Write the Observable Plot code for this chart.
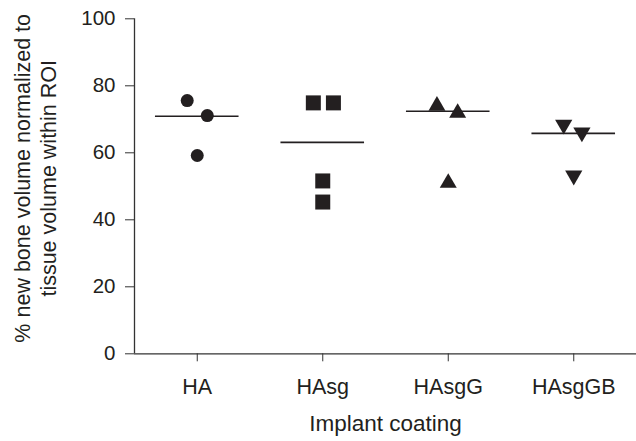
<!DOCTYPE html>
<html><head><meta charset="utf-8">
<script src="https://cdn.jsdelivr.net/npm/d3@7"></script>
<script src="https://cdn.jsdelivr.net/npm/@observablehq/plot@0.6"></script>
<style>
html,body{margin:0;padding:0;background:#fff;}
</style>
</head><body><div id="chart"></div>
<script>
const categories = ["HA", "HAsg", "HAsgG", "HAsgGB"];
const symbols = ["circle", "square", "triangle", "triangle"];
const rotations = [0, 0, 0, 180];
const valuesHA = [75.6, 71.1, 59.2];
const valuesHAsg = [74.9, 74.9, 51.6, 45.3];
const valuesHAsgG = [74.0, 71.9, 51.0];
const valuesHAsgGB = [68.4, 66.1, 53.2];
const jitterHA = [-0.08, 0.08, 0];
const jitterHAsg = [-0.075, 0.085, 0, 0];
const jitterHAsgG = [-0.09, 0.075, 0];
const jitterHAsgGB = [-0.08, 0.065, 0];
const medians = [70.9, 63.1, 72.4, 65.8];
const yTicks = [0, 20, 40, 60, 80, 100];
const xTitle = "Implant coating";
const yTitle = "% new bone volume normalized to\ntissue volume within ROI";

const ink = "#231f20";
const axisInk = "#333333";
const font = "'Liberation Sans', Arial, Helvetica, sans-serif";
const sizes = [6.5, 8.46, 6.3, 6.4];

const groups = [
  [valuesHA, jitterHA],
  [valuesHAsg, jitterHAsg],
  [valuesHAsgG, jitterHAsgG],
  [valuesHAsgGB, jitterHAsgGB]
];

const pointMarks = groups.map(([vals, jit], i) =>
  Plot.dot(vals.map((v, j) => ({x: i + 1 + jit[j], v})), {
    x: "x", y: "v", symbol: symbols[i], r: sizes[i], rotate: rotations[i],
    fill: ink, stroke: null
  })
);

const medianRows = medians.map((m, i) => ({x1: i + 1 - 0.333, x2: i + 1 + 0.333, v: m}));

const chart = Plot.plot({
  width: 636,
  height: 441,
  marginLeft: 134,
  marginRight: 0,
  marginTop: 18.3,
  marginBottom: 87.7,
  x: {domain: [0.5, 4.5]},
  y: {domain: [0, 100]},
  style: {fontFamily: font, fontSize: "21px", color: ink, background: "white", overflow: "visible"},
  marks: [
    Plot.axisY({ticks: yTicks, tickSize: 9, tickPadding: 10, label: null, tickFormat: d => String(d), stroke: axisInk, fontSize: 20.5}),
    Plot.axisX({ticks: [1, 2, 3, 4], tickFormat: i => categories[i - 1], tickSize: 8, tickPadding: 17, label: null, stroke: axisInk, fontSize: 21.5}),
    Plot.ruleY([0], {x1: 0.5, x2: 4.5, stroke: axisInk, strokeWidth: 1.3}),
    Plot.ruleX([0.5], {y1: 0, y2: 100, stroke: axisInk, strokeWidth: 1.3}),
    Plot.ruleY(medianRows, {y: "v", x1: "x1", x2: "x2", stroke: ink, strokeWidth: 1.6}),
    ...pointMarks,
    Plot.text([xTitle], {frameAnchor: "bottom", dy: 77, fontSize: 22.5, fill: ink}),
    Plot.text([yTitle], {frameAnchor: "left", textAnchor: "middle", rotate: -90, dx: -100, dy: -8, lineHeight: 1.24, fontSize: 21.5, fill: ink})
  ]
});
document.getElementById("chart").appendChild(chart);
</script>
</body></html>
